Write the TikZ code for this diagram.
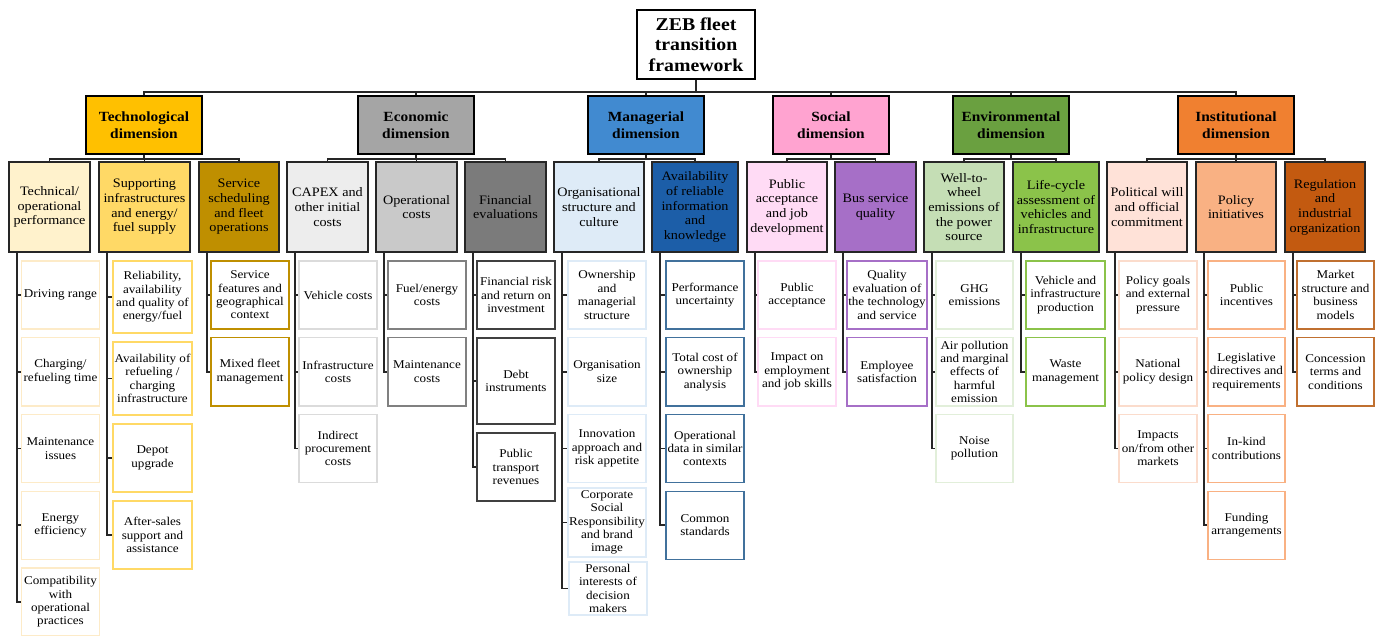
\documentclass[tikz,border=0pt]{standalone}
\usepackage{fontspec}
\setmainfont{Liberation Serif}[FakeStretch=1.1]
\definecolor{techD}{HTML}{FFC000}
\definecolor{techA}{HTML}{FFF2CC}
\definecolor{techL}{HTML}{FDEBC8}
\definecolor{techB}{HTML}{FFD966}
\definecolor{techC}{HTML}{BF8F00}
\definecolor{econD}{HTML}{A5A5A5}
\definecolor{econA}{HTML}{EDEDED}
\definecolor{econL}{HTML}{DBDBDB}
\definecolor{econB}{HTML}{C9C9C9}
\definecolor{econC}{HTML}{7B7B7B}
\definecolor{mgmtD}{HTML}{418AD0}
\definecolor{mgmtA}{HTML}{DEEBF7}
\definecolor{mgmtB}{HTML}{1C5EA8}
\definecolor{mgmtL}{HTML}{41719C}
\definecolor{socD}{HTML}{FFA3D0}
\definecolor{socA}{HTML}{FFDBF5}
\definecolor{socB}{HTML}{A66FC7}
\definecolor{envD}{HTML}{6AA040}
\definecolor{envA}{HTML}{C5DEB5}
\definecolor{envB}{HTML}{8BC34A}
\definecolor{envL}{HTML}{E2EFDA}
\definecolor{instD}{HTML}{F08030}
\definecolor{instA}{HTML}{FFE2D8}
\definecolor{instB}{HTML}{F9B183}
\definecolor{instC}{HTML}{C35A10}
\definecolor{instL}{HTML}{FBDCCC}
\definecolor{instM}{HTML}{C07030}
\begin{document}
\begin{tikzpicture}[x=1pt,y=-1pt,
    link/.style={line width=1.6pt, draw=black!85},
    root/.style={draw, line width=1.6pt, fill=white, align=center, inner sep=0pt,
      minimum width=118, minimum height=69, font=\bfseries\fontsize{18}{20.5}\selectfont},
    dim/.style={draw, line width=1.6pt, fill=#1, align=center, inner sep=0pt,
      minimum width=116, minimum height=58, font=\bfseries\fontsize{14}{16.5}\selectfont},
    sub/.style={draw=black!85, line width=1.6pt, fill=#1, align=center, inner sep=0pt,
      minimum height=90, font=\fontsize{12.9}{14.7}\selectfont},
    leaf/.style={draw=#1, line width=1.5pt, fill=white, align=center, inner sep=0pt,
      minimum width=78, minimum height=68, font=\fontsize{11.9}{13.4}\selectfont}]
    \useasboundingbox (0,0) rectangle (1379,636);

    \node [root] (zeb) at (696,44.5) {ZEB fleet\\transition\\framework};

    \node [dim=techD] (tech) at (144,125) {Technological\\dimension};
    \node [dim=econD] (econ) at (416,125) {Economic\\dimension};
    \node [dim=mgmtD] (mgmt) at (646,125) {Managerial\\dimension};
    \node [dim=socD]  (soc)  at (831,125) {Social\\dimension};
    \node [dim=envD]  (env)  at (1011,125) {Environmental\\dimension};
    \node [dim=instD] (inst) at (1236,125) {Institutional\\dimension};

    \node [sub=techA, minimum width=81] (t1) at (49.5,207) {Technical/\\operational\\performance};
    \node [sub=techB, minimum width=91] (t2) at (144.5,207) {Supporting\\infrastructures\\and energy/\\fuel supply};
    \node [sub=techC, minimum width=80] (t3) at (239,207) {Service\\scheduling\\and fleet\\operations};
    \node [sub=econA, minimum width=81] (e1) at (327.5,207) {CAPEX and\\other initial\\costs};
    \node [sub=econB, minimum width=81] (e2) at (416.5,207) {Operational\\costs};
    \node [sub=econC, minimum width=81] (e3) at (505.5,207) {Financial\\evaluations};
    \node [sub=mgmtA, minimum width=90] (m1) at (599,207) {Organisational\\structure and\\culture};
    \node [sub=mgmtB, minimum width=86] (m2) at (695,207) {Availability\\of reliable\\information\\and\\knowledge};
    \node [sub=socA, minimum width=80]  (s1) at (787,207) {Public\\acceptance\\and job\\development};
    \node [sub=socB, minimum width=81]  (s2) at (875.5,207) {Bus service\\quality};
    \node [sub=envA, minimum width=80]  (v1) at (964,207) {Well-to-\\wheel\\emissions of\\the power\\source};
    \node [sub=envB, minimum width=86]  (v2) at (1056,207) {Life-cycle\\assessment of\\vehicles and\\infrastructure};
    \node [sub=instA, minimum width=80] (i1) at (1147,207) {Political will\\and official\\commitment};
    \node [sub=instB, minimum width=80] (i2) at (1236,207) {Policy\\initiatives};
    \node [sub=instC, minimum width=80] (i3) at (1325,207) {Regulation\\and\\industrial\\organization};

    \foreach \txt [count=\i] in {Driving range, {Charging/\\refueling time}, {Maintenance\\issues},
        {Energy\\efficiency}, {Compatibility\\with\\operational\\practices}}
        \node [leaf=techL] (t1-\i) at (60.5,218.25+76.75*\i) {\txt};
    \node [leaf=techB, minimum width=79, minimum height=72] (t2-1) at (152.5,297) {Reliability,\\availability\\and quality of\\energy/fuel};
    \node [leaf=techB, minimum width=79, minimum height=73] (t2-2) at (152.5,378.5) {Availability of\\refueling /\\charging\\infrastructure};
    \node [leaf=techB, minimum width=79] (t2-3) at (152.5,458) {Depot\\upgrade};
    \node [leaf=techB, minimum width=79] (t2-4) at (152.5,535) {After-sales\\support and\\assistance};
    \foreach \txt [count=\i] in {{Service\\features and\\geographical\\context}, {Mixed fleet\\management}}
        \node [leaf=techC] (t3-\i) at (250,218.25+76.75*\i) {\txt};

    \foreach \txt [count=\i] in {Vehicle costs, {Infrastructure\\costs}, {Indirect\\procurement\\costs}}
        \node [leaf=econL] (e1-\i) at (338,218.25+76.75*\i) {\txt};
    \foreach \txt [count=\i] in {{Fuel/energy\\costs}, {Maintenance\\costs}}
        \node [leaf=black!50] (e2-\i) at (427,218.25+76.75*\i) {\txt};
    \node [leaf=black!75] (e3-1) at (516,295) {Financial risk\\and return on\\investment};
    \node [leaf=black!75, minimum height=86] (e3-2) at (516,381) {Debt\\instruments};
    \node [leaf=black!75] (e3-3) at (516,467) {Public\\transport\\revenues};

    \foreach \txt [count=\i] in {{Ownership\\and\\managerial\\structure}, {Organisation\\size}, {Innovation\\approach and\\risk appetite}}
        \node [leaf=mgmtA] (m1-\i) at (607,218.25+76.75*\i) {\txt};
    \node [leaf=mgmtA, minimum height=69] (m1-4) at (607,522.5) {Corporate\\Social\\Responsibility\\and brand\\image};
    \node [leaf=mgmtA, minimum height=53] (m1-5) at (608,588.5) {Personal\\interests of\\decision\\makers};
    \foreach \txt [count=\i] in {{Performance\\uncertainty}, {Total cost of\\ownership\\analysis},
        {Operational\\data in similar\\contexts}, {Common\\standards}}
        \node [leaf=mgmtL] (m2-\i) at (705,218.25+76.75*\i) {\txt};

    \foreach \txt [count=\i] in {{Public\\acceptance}, {Impact on\\employment\\and job skills}}
        \node [leaf=socA] (s1-\i) at (797,218.25+76.75*\i) {\txt};
    \foreach \txt [count=\i] in {{Quality\\evaluation of\\the technology\\and service}, {Employee\\satisfaction}}
        \node [leaf=socB, minimum width=80] (s2-\i) at (887,218.25+76.75*\i) {\txt};

    \foreach \txt [count=\i] in {{GHG\\emissions}, {Air pollution\\and marginal\\effects of\\harmful\\emission}, {Noise\\pollution}}
        \node [leaf=envL, minimum width=77] (v1-\i) at (974.5,218.25+76.75*\i) {\txt};
    \foreach \txt [count=\i] in {{Vehicle and\\infrastructure\\production}, {Waste\\management}}
        \node [leaf=envB, minimum width=79] (v2-\i) at (1065.5,218.25+76.75*\i) {\txt};

    \foreach \txt [count=\i] in {{Policy goals\\and external\\pressure}, {National\\policy design}, {Impacts\\on/from other\\markets}}
        \node [leaf=instL] (i1-\i) at (1158,218.25+76.75*\i) {\txt};
    \foreach \txt [count=\i] in {{Public\\incentives}, {Legislative\\directives and\\requirements},
        {In-kind\\contributions}, {Funding\\arrangements}}
        \node [leaf=instB, minimum width=77] (i2-\i) at (1246.5,218.25+76.75*\i) {\txt};
    \foreach \txt [count=\i] in {{Market\\structure and\\business\\models}, {Concession\\terms and\\conditions}}
        \node [leaf=instM, minimum width=77] (i3-\i) at (1335.5,218.25+76.75*\i) {\txt};

    \foreach \d in {tech,econ,mgmt,soc,env,inst}
        \draw [link] (zeb.south) -- ++(0,12) -| (\d.north);
    \foreach \s in {t1,t2,t3}
        \draw [link] (tech.south) -- ++(0,4) -| (\s.north);
    \foreach \s in {e1,e2,e3}
        \draw [link] (econ.south) -- ++(0,4) -| (\s.north);
    \foreach \s in {m1,m2}
        \draw [link] (mgmt.south) -- ++(0,4) -| (\s.north);
    \foreach \s in {s1,s2}
        \draw [link] (soc.south) -- ++(0,4) -| (\s.north);
    \foreach \s in {v1,v2}
        \draw [link] (env.south) -- ++(0,4) -| (\s.north);
    \foreach \s in {i1,i2,i3}
        \draw [link] (inst.south) -- ++(0,4) -| (\s.north);

    \foreach \c/\n in {t1/5,t2/4,t3/2,e1/3,e2/2,e3/3,m1/5,m2/4,s1/2,s2/2,v1/3,v2/2,i1/3,i2/4,i3/2} {
        \path (\c.south west) ++(9,0) coordinate (\c-x);
        \draw [link] (\c-x) |- (\c-\n.west);
        \foreach \i in {1,...,\n}
            \draw [link] (\c-x |- \c-\i.west) -- (\c-\i.west);
    }
\end{tikzpicture}
\end{document}
